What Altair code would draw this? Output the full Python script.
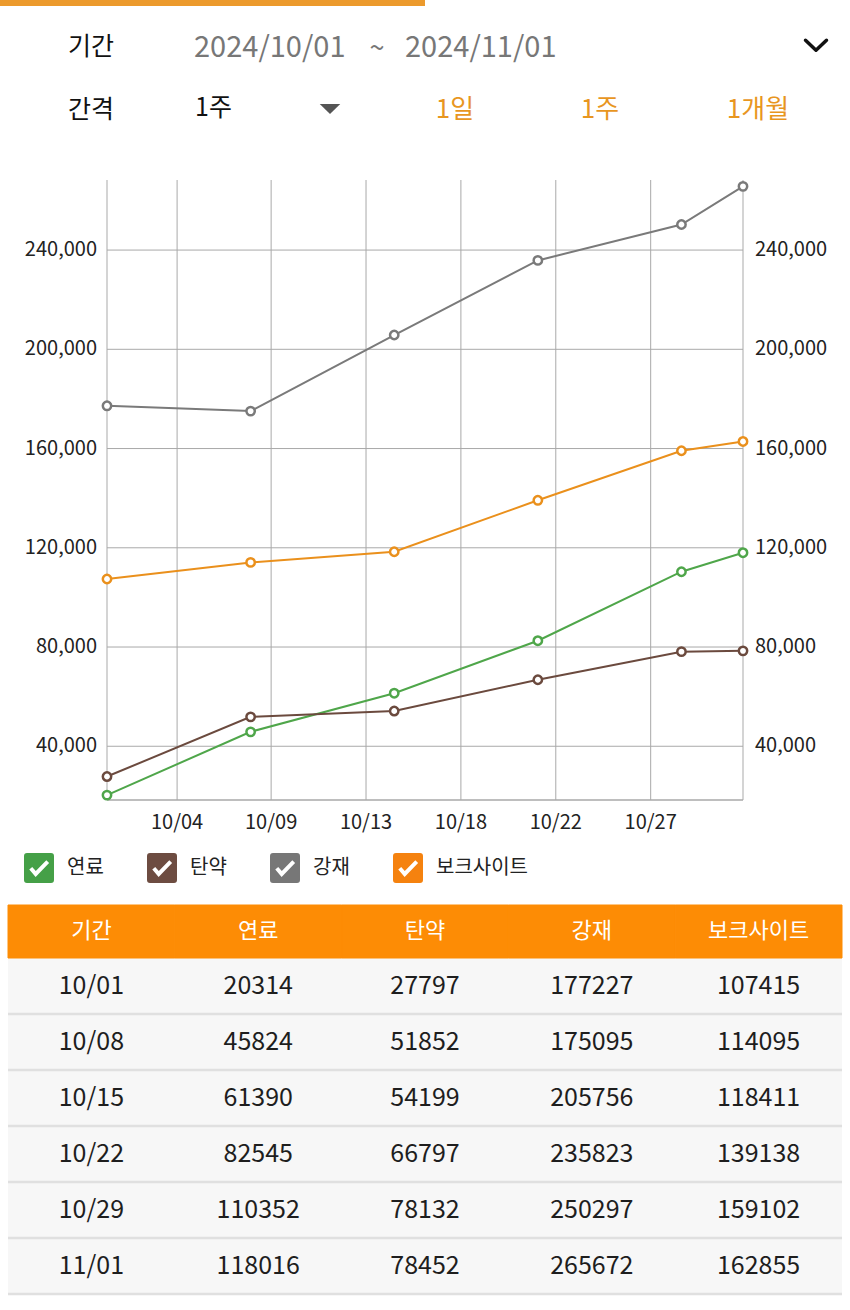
import altair as alt
import pandas as pd

FONT = "Noto Sans CJK KR"

# ---------------- data ----------------
dates = ["2024-10-01", "2024-10-08", "2024-10-15", "2024-10-22", "2024-10-29", "2024-11-01"]
row_labels = ["10/01", "10/08", "10/15", "10/22", "10/29", "11/01"]
series = ["연료", "탄약", "강재", "보크사이트"]
fuel = [20314, 45824, 61390, 82545, 110352, 118016]
ammo = [27797, 51852, 54199, 66797, 78132, 78452]
steel = [177227, 175095, 205756, 235823, 250297, 265672]
bauxite = [107415, 114095, 118411, 139138, 159102, 162855]

y_ticks = [40000, 80000, 120000, 160000, 200000, 240000]
y_tick_labels = ["40,000", "80,000", "120,000", "160,000", "200,000", "240,000"]
x_ticks = ["2024-10-04T10:00:00Z", "2024-10-09T00:00:00Z", "2024-10-13T15:00:00Z",
           "2024-10-18T06:00:00Z", "2024-10-22T21:00:00Z", "2024-10-27T12:00:00Z"]
x_tick_labels = ["10/04", "10/09", "10/13", "10/18", "10/22", "10/27"]
x_bounds = ["2024-10-01", "2024-11-01"]

table_cols = ["기간", "연료", "탄약", "강재", "보크사이트"]

# ---------------- styles ----------------
line_colors = ["#4fa64a", "#6b4a3e", "#7a7a7a", "#ea901c"]
legend_colors = ["#45a047", "#6d4c41", "#777777", "#f5820f"]
GRID = "#a9a9a9"
ORANGE = "#fd8c05"
GOLD = "#e8961f"

XS = alt.Scale(type="utc",
               domain=[alt.DateTime(year=2024, month=10, date=1, utc=True),
                       alt.DateTime(year=2024, month=11, date=1, utc=True)],
               range=[107, 743])
YS = alt.Scale(domain=[18340, 268240], range=[800, 180], nice=False, zero=False)
CS = alt.Scale(domain=table_cols, range=[8, 842], paddingInner=0, paddingOuter=0)
RS = alt.Scale(domain=row_labels, range=[958, 1294], paddingInner=0, paddingOuter=0)

# ---------------- tables ----------------
values = {"연료": fuel, "탄약": ammo, "강재": steel, "보크사이트": bauxite}
lines_df = pd.DataFrame([
    {"date": d, "series": s, "value": values[s][i]}
    for s in series for i, d in enumerate(dates)
])
ygrid_df = pd.DataFrame({"v": y_ticks, "label": y_tick_labels})
xgrid_df = pd.DataFrame({"d": x_ticks, "label": x_tick_labels})
xbound_df = pd.DataFrame({"d": x_bounds})
cells = []
for i, r in enumerate(row_labels):
    cells.append({"row": r, "col": "기간", "text": r})
    for s in series:
        cells.append({"row": r, "col": s, "text": str(values[s][i])})
cells_df = pd.DataFrame(cells)
rows_df = pd.DataFrame({"row": row_labels})
cols_df = pd.DataFrame({"col": table_cols})
one = pd.DataFrame({"k": [0]})


def txt(s, x, y, size, color, align="left", weight="normal"):
    return alt.Chart(one).mark_text(
        align=align, baseline="middle", font=FONT, fontSize=size,
        color=color, fontWeight=weight
    ).encode(x=alt.value(x), y=alt.value(y), text=alt.value(s))


layers = []

# ---------------- header ----------------
layers.append(alt.Chart(one).mark_rect(color="#ec9a2c").encode(
    x=alt.value(0), x2=alt.value(425), y=alt.value(0), y2=alt.value(6)))
layers.append(txt("기간", 68, 47, 25, "#111111"))
layers.append(txt("2024/10/01", 194, 48, 29, "#777777"))
layers.append(txt("~", 377, 49, 27, "#777777", align="center"))
layers.append(txt("2024/11/01", 405, 48, 29, "#777777"))
layers.append(alt.Chart(one).mark_point(
    shape="M -1 -0.45 L 0 0.5 L 1 -0.45", filled=False, stroke="#111111",
    strokeWidth=3.5, size=440, opacity=1, strokeCap="round", strokeJoin="round"
).encode(x=alt.value(816), y=alt.value(45)))
layers.append(txt("간격", 68, 110, 25, "#111111"))
layers.append(txt("1주", 195, 108, 25, "#111111"))
layers.append(alt.Chart(one).mark_point(
    shape="M -1 -0.5 L 1 -0.5 L 0 0.5 Z", filled=True, fill="#555555",
    size=420, opacity=1, strokeWidth=0
).encode(x=alt.value(330), y=alt.value(109)))
layers.append(txt("1일", 455, 110, 26, GOLD, align="center"))
layers.append(txt("1주", 600, 110, 26, GOLD, align="center"))
layers.append(txt("1개월", 758, 110, 26, GOLD, align="center"))

# ---------------- chart grid ----------------
layers.append(alt.Chart(ygrid_df).mark_rule(color=GRID, strokeWidth=1).encode(
    y=alt.Y("v:Q", scale=YS, axis=None), x=alt.value(107), x2=alt.value(743)))
layers.append(alt.Chart(xgrid_df).mark_rule(color=GRID, strokeWidth=1).encode(
    x=alt.X("d:T", scale=XS, axis=None), y=alt.value(180), y2=alt.value(800)))
layers.append(alt.Chart(xbound_df).mark_rule(color=GRID, strokeWidth=1).encode(
    x=alt.X("d:T", scale=XS, axis=None), y=alt.value(180), y2=alt.value(800)))
layers.append(alt.Chart(one).mark_rule(color=GRID, strokeWidth=1.5).encode(
    y=alt.value(800), x=alt.value(107), x2=alt.value(743)))

# axis labels
layers.append(alt.Chart(ygrid_df).mark_text(
    align="right", baseline="middle", font=FONT, fontSize=20, color="#222222"
).encode(y=alt.Y("v:Q", scale=YS, axis=None), x=alt.value(97), text="label:N"))
layers.append(alt.Chart(ygrid_df).mark_text(
    align="left", baseline="middle", font=FONT, fontSize=20, color="#222222"
).encode(y=alt.Y("v:Q", scale=YS, axis=None), x=alt.value(755), text="label:N"))
layers.append(alt.Chart(xgrid_df).mark_text(
    align="center", baseline="middle", font=FONT, fontSize=20, color="#222222"
).encode(x=alt.X("d:T", scale=XS, axis=None), y=alt.value(823), text="label:N"))

# ---------------- lines & points ----------------
layers.append(alt.Chart(lines_df).mark_line(strokeWidth=2).encode(
    x=alt.X("date:T", scale=XS, axis=None),
    y=alt.Y("value:Q", scale=YS, axis=None),
    color=alt.Color("series:N", scale=alt.Scale(domain=series, range=line_colors), legend=None),
))
layers.append(alt.Chart(lines_df).mark_point(
    shape="circle", filled=True, fill="white", size=70, strokeWidth=2.5, opacity=1
).encode(
    x=alt.X("date:T", scale=XS, axis=None),
    y=alt.Y("value:Q", scale=YS, axis=None),
    stroke=alt.Stroke("series:N", scale=alt.Scale(domain=series, range=line_colors), legend=None),
))

# ---------------- legend ----------------
CHECK = ("M -0.8 -1 L 0.8 -1 Q 1 -1 1 -0.8 L 1 0.8 Q 1 1 0.8 1 L -0.8 1 Q -1 1 -1 0.8 "
         "L -1 -0.8 Q -1 -1 -0.8 -1 Z "
         "M -0.648 0.105 L -0.226 0.592 L 0.673 -0.329 L 0.487 -0.511 L -0.214 0.208 L -0.452 -0.065 Z")
layers.append(alt.Chart(pd.DataFrame({"series": series})).mark_point(
    shape="square", filled=True, size=10, opacity=0
).encode(
    x=alt.value(-50), y=alt.value(-50),
    fill=alt.Fill("series:N", scale=alt.Scale(domain=series, range=legend_colors),
                  legend=alt.Legend(
                      title=None, orient="none", legendX=24, legendY=853,
                      direction="horizontal", symbolType=CHECK, symbolSize=900,
                      symbolStrokeWidth=0, symbolOpacity=1, labelFont=FONT,
                      labelFontSize=20, labelColor="#222222", labelOffset=13,
                      columnPadding=43, padding=0, offset=0)),
))

# ---------------- table ----------------
layers.append(alt.Chart(rows_df).mark_rect(fill="#f7f7f7").encode(
    y=alt.Y("row:O", scale=RS, axis=None), x=alt.value(8), x2=alt.value(842)))
layers.append(alt.Chart(rows_df).mark_rule(stroke="#e0e0e0", strokeWidth=2.5).encode(
    y=alt.Y("row:O", scale=RS, axis=None, bandPosition=1), x=alt.value(8), x2=alt.value(842)))
layers.append(alt.Chart(cols_df).mark_rect(fill=ORANGE, stroke=ORANGE, strokeWidth=1).encode(
    x=alt.X("col:N", scale=CS, axis=None), y=alt.value(905), y2=alt.value(958)))
layers.append(alt.Chart(cols_df).mark_text(
    align="center", baseline="middle", font=FONT, fontSize=22, color="white"
).encode(x=alt.X("col:N", scale=CS, axis=None), y=alt.value(931), text="col:N"))
layers.append(alt.Chart(cells_df).mark_text(
    align="center", baseline="middle", font=FONT, fontSize=25, color="#1e1e1e"
).encode(
    x=alt.X("col:N", scale=CS, axis=None),
    y=alt.Y("row:O", scale=RS, axis=None),
    text="text:N"))

chart = alt.layer(*layers).resolve_scale(
    x="independent", y="independent", color="independent",
    stroke="independent", fill="independent"
).properties(
    width=850, height=1310, autosize=alt.AutoSizeParams(type="none"),
    padding=0, background="white"
).configure_view(strokeWidth=0)

chart.save("out.html", embed_options={"renderer": "svg", "actions": False})
